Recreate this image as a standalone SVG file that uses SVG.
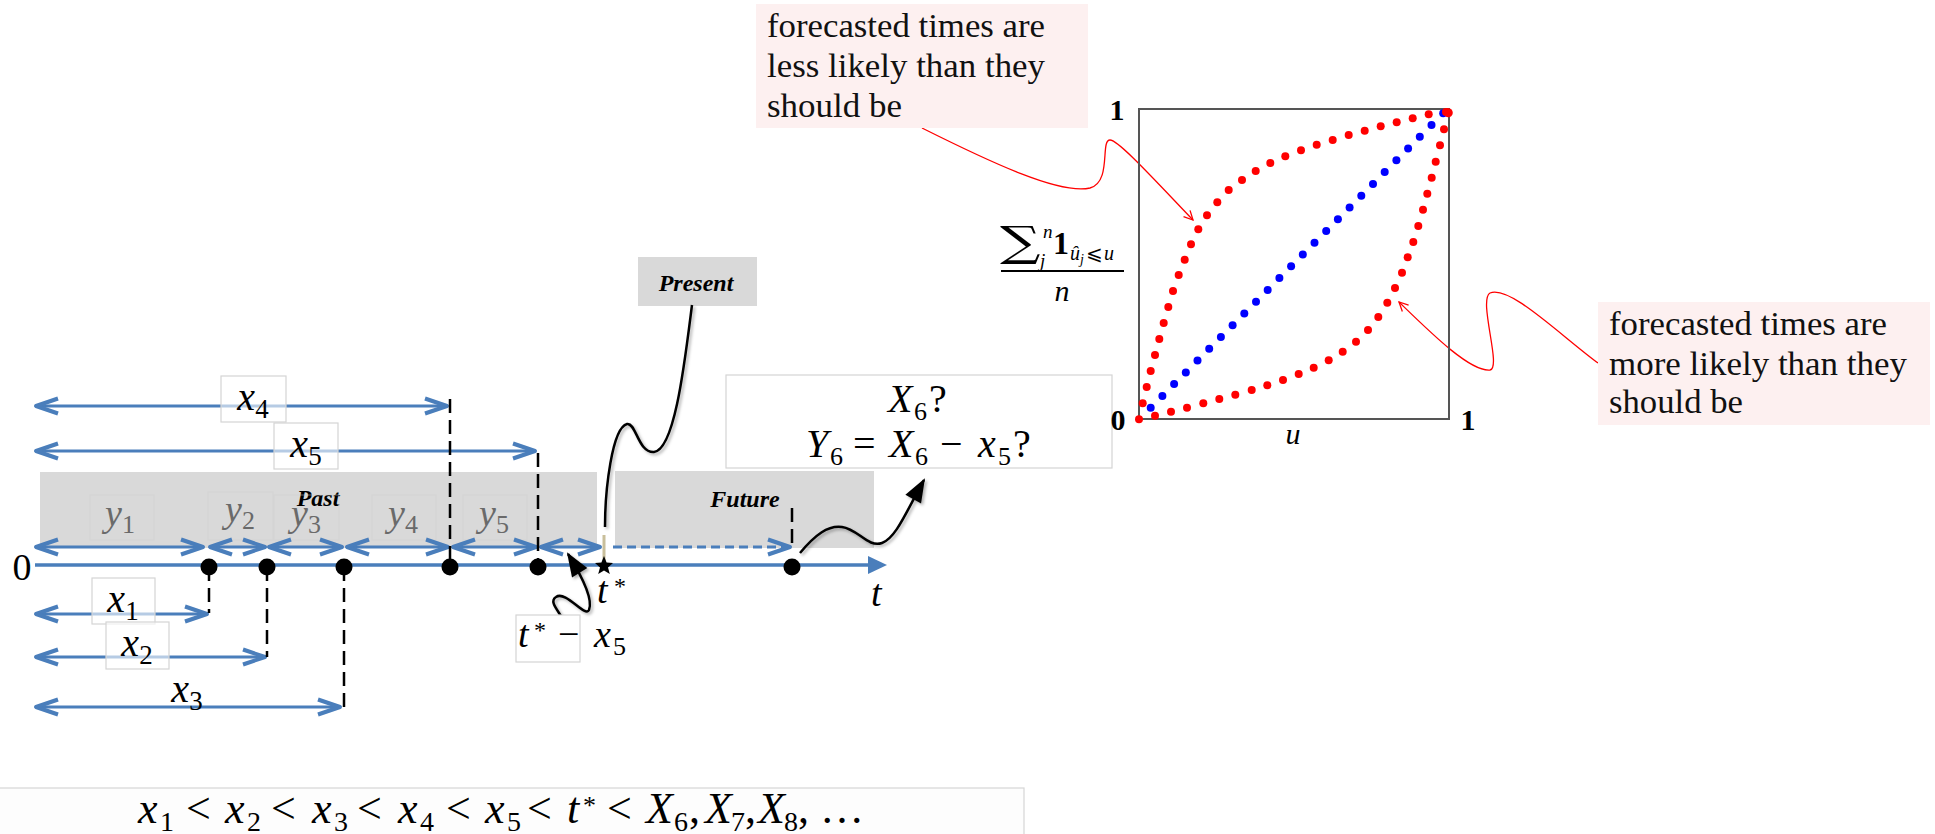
<svg xmlns="http://www.w3.org/2000/svg" width="1935" height="834" viewBox="0 0 1935 834">
<style>
.m{font-family:"Liberation Serif",serif;font-style:italic;fill:#000}
.u{font-family:"Liberation Serif",serif;fill:#000}
.g{fill:#6a6a6a}
.lbl{font-family:"Liberation Serif",serif;font-style:italic;font-weight:bold;font-size:24px;text-anchor:middle;fill:#000}
.cm{font-family:"Liberation Serif",serif;font-size:34px;fill:#111}
.blue{stroke:#4a7ebb;stroke-width:3;fill:none}
.vd{stroke:#000;stroke-width:2.5;stroke-dasharray:14 7;fill:none}
.box{fill:#fff;stroke:#d4d4d4;stroke-width:1.2}
.fbox{fill:none;stroke:#cfcfcf;stroke-width:1;opacity:.5}
.curve{stroke:#000;stroke-width:2.5;fill:none}
.red{stroke:#ff0000;stroke-width:1.3;fill:none}
.rd{fill:#ff0000}
.bd{fill:#0000ff}
</style>
<defs>
<marker id="v" overflow="visible" orient="auto-start-reverse" markerUnits="userSpaceOnUse" refX="0" refY="0" markerWidth="30" markerHeight="20">
<path d="M-22,-7.5 L0,0 L-22,7.5" fill="none" stroke="#4a7ebb" stroke-width="4" stroke-linejoin="round"/>
</marker>
<marker id="bk" overflow="visible" orient="auto" markerUnits="userSpaceOnUse" refX="0" refY="0" markerWidth="24" markerHeight="20">
<path d="M2,0 L-22,-9 L-22,9 Z" fill="#000"/>
</marker>
<marker id="ra" overflow="visible" orient="auto" markerUnits="userSpaceOnUse" refX="0" refY="0" markerWidth="12" markerHeight="12">
<path d="M-9,-4.5 L0,0 L-9,4.5" fill="none" stroke="#ff0000" stroke-width="1.3"/>
</marker>
<filter id="sh" x="-20%" y="-20%" width="140%" height="140%">
<feDropShadow dx="2" dy="2" stdDeviation="1.5" flood-color="#000" flood-opacity="0.3"/>
</filter>
</defs>
<rect width="1935" height="834" fill="#fff"/>

<g id="past-region">
<rect x="40" y="472" width="557" height="76" fill="#d9d9d9"/>
<text class="lbl" x="318" y="506">Past</text>
</g>
<g id="future-region">
<rect x="615" y="471" width="259" height="77" fill="#d9d9d9"/>
<text class="lbl" x="745" y="507">Future</text>
</g>
<g id="present-label">
<rect x="638" y="257" width="119" height="49" fill="#d9d9d9"/>
<text class="lbl" x="696" y="291">Present</text>
</g>

<g id="y-labels">
<rect class="fbox" x="90" y="495" width="64" height="45"/>
<rect class="fbox" x="208" y="492" width="65" height="48"/>
<rect class="fbox" x="274" y="495" width="65" height="45"/>
<rect class="fbox" x="372" y="495" width="64" height="45"/>
<rect class="fbox" x="463" y="495" width="64" height="45"/>
<text class="m g" font-size="38" x="120" y="526" text-anchor="middle">y<tspan font-style="normal" font-size="26" dy="7">1</tspan></text>
<text class="m g" font-size="38" x="240" y="522" text-anchor="middle">y<tspan font-style="normal" font-size="26" dy="7">2</tspan></text>
<text class="m g" font-size="38" x="306" y="526" text-anchor="middle">y<tspan font-style="normal" font-size="26" dy="7">3</tspan></text>
<text class="m g" font-size="38" x="403" y="526" text-anchor="middle">y<tspan font-style="normal" font-size="26" dy="7">4</tspan></text>
<text class="m g" font-size="38" x="494" y="526" text-anchor="middle">y<tspan font-style="normal" font-size="26" dy="7">5</tspan></text>
</g>

<g id="connectors">
<line x1="35" y1="565" x2="870" y2="565" stroke="#4a7ebb" stroke-width="3.5"/>
<path d="M887,565 L868,556 L868,574 Z" fill="#4a7ebb"/>
<line class="blue" x1="36" y1="547" x2="203" y2="547" marker-start="url(#v)" marker-end="url(#v)"/>
<line class="blue" x1="210" y1="547" x2="265" y2="547" marker-start="url(#v)" marker-end="url(#v)"/>
<line class="blue" x1="269" y1="547" x2="342" y2="547" marker-start="url(#v)" marker-end="url(#v)"/>
<line class="blue" x1="347" y1="547" x2="448" y2="547" marker-start="url(#v)" marker-end="url(#v)"/>
<line class="blue" x1="453" y1="547" x2="536" y2="547" marker-start="url(#v)" marker-end="url(#v)"/>
<line class="blue" x1="541" y1="547" x2="600" y2="547" marker-start="url(#v)" marker-end="url(#v)"/>
<line class="blue" x1="613" y1="547" x2="790" y2="547" stroke-dasharray="9 5" marker-end="url(#v)"/>
<line class="blue" x1="36" y1="406" x2="447" y2="406" marker-start="url(#v)" marker-end="url(#v)"/>
<line class="blue" x1="36" y1="451" x2="535" y2="451" marker-start="url(#v)" marker-end="url(#v)"/>
<line class="blue" x1="36" y1="614" x2="207" y2="614" marker-start="url(#v)" marker-end="url(#v)"/>
<line class="blue" x1="36" y1="657" x2="265" y2="657" marker-start="url(#v)" marker-end="url(#v)"/>
<line class="blue" x1="36" y1="707" x2="340" y2="707" marker-start="url(#v)" marker-end="url(#v)"/>
<line class="vd" x1="450" y1="399" x2="450" y2="565"/>
<line class="vd" x1="538" y1="453" x2="538" y2="565"/>
<line class="vd" x1="209" y1="567" x2="209" y2="613"/>
<line class="vd" x1="267" y1="567" x2="267" y2="657"/>
<line class="vd" x1="344" y1="567" x2="344" y2="707"/>
<line class="vd" x1="792" y1="508" x2="792" y2="548" stroke-dasharray="10 6"/>
<line x1="604" y1="535" x2="604" y2="562" stroke="#c9bf9b" stroke-width="3"/>
<g filter="url(#sh)">
<path class="curve" d="M692,305 C685,360 675,450 654,452 C638,453 636,422 627,424 C612,428 605,490 605,527"/>
<path class="curve" d="M800,553 C815,535 828,525 842,527 C858,529 868,548 882,543 C896,538 906,512 924,480" marker-end="url(#bk)"/>
<path class="curve" d="M565,623 C560,612 548,602 556,597 C566,590 585,618 589,610 C593,600 583,578 568,554" marker-end="url(#bk)"/>
</g>
<path class="red" d="M922,128 C990,162 1060,195 1090,188 C1112,182 1100,140 1110,140 C1118,140 1150,175 1193,220" marker-end="url(#ra)"/>
<path class="red" d="M1598,363 C1560,335 1510,285 1490,293 C1478,300 1502,368 1490,370 C1470,372 1430,332 1399,302" marker-end="url(#ra)"/>
</g>

<g id="events">
<circle cx="209" cy="567" r="8.5"/>
<circle cx="267" cy="567" r="8.5"/>
<circle cx="344" cy="567" r="8.5"/>
<circle cx="450" cy="567" r="8.5"/>
<circle cx="538" cy="567" r="8.5"/>
<circle cx="792" cy="567" r="8.5"/>
<path d="M604,556 L606.6,562.4 L613,563 L608,567.5 L609.8,574 L604,570.4 L598.2,574 L600,567.5 L595,563 L601.4,562.4 Z" fill="#000"/>
</g>

<g id="axis-labels">
<text class="u" font-size="38" x="22" y="580" text-anchor="middle">0</text>
<text class="m" font-size="38" x="871" y="606">t</text>
<text class="m" font-size="38" x="597" y="603">t<tspan font-style="normal" font-size="24" x="614" dy="-9">*</tspan></text>
</g>

<g id="x-labels">
<rect class="box" x="221" y="376" width="65" height="46" fill-opacity="0.6"/>
<text class="m" font-size="40" x="253" y="410" text-anchor="middle">x<tspan font-style="normal" font-size="27" dy="8">4</tspan></text>
<rect class="box" x="274" y="423" width="64" height="46" fill-opacity="0.6"/>
<text class="m" font-size="40" x="306" y="457" text-anchor="middle">x<tspan font-style="normal" font-size="27" dy="8">5</tspan></text>
<rect class="box" x="92" y="578" width="63" height="46" fill-opacity="0.6"/>
<text class="m" font-size="40" x="123" y="612" text-anchor="middle">x<tspan font-style="normal" font-size="27" dy="8">1</tspan></text>
<rect class="box" x="106" y="622" width="63" height="47" fill-opacity="0.6"/>
<text class="m" font-size="40" x="137" y="656" text-anchor="middle">x<tspan font-style="normal" font-size="27" dy="8">2</tspan></text>
<text class="m" font-size="40" x="187" y="702" text-anchor="middle">x<tspan font-style="normal" font-size="27" dy="8">3</tspan></text>
</g>

<g id="gap-label">
<rect class="box" x="516" y="615" width="64" height="47"/>
<text class="m" font-size="38" x="518" y="647">t<tspan font-style="normal" font-size="24" x="534" dy="-9">*</tspan><tspan font-style="normal" x="558" dy="9">−</tspan><tspan x="594">x</tspan><tspan font-style="normal" font-size="26" x="613" dy="8">5</tspan></text>
</g>

<g id="question-box">
<rect class="box" x="726" y="375" width="386" height="93" fill="#fdfdfd"/>
<text class="m" font-size="40" x="888" y="412">X<tspan font-style="normal" font-size="26" x="914" dy="8">6</tspan><tspan font-style="normal" x="929" dy="-8">?</tspan></text>
<text class="m" font-size="40" x="806" y="457">Y<tspan font-style="normal" font-size="26" x="830" dy="8">6</tspan><tspan font-style="normal" x="853" dy="-8">=</tspan><tspan x="889">X</tspan><tspan font-style="normal" font-size="26" x="915" dy="8">6</tspan><tspan font-style="normal" x="940" dy="-8">−</tspan><tspan x="978">x</tspan><tspan font-style="normal" font-size="26" x="998" dy="8">5</tspan><tspan font-style="normal" x="1013" dy="-8">?</tspan></text>
</g>

<g id="ordering">
<rect x="-2" y="788" width="1026" height="50" fill="#fdfdfd" stroke="#d6d6d6" stroke-width="1.2"/>
<text class="m" font-size="44" y="823"><tspan x="138">x</tspan><tspan font-style="normal" font-size="28" x="160" dy="8">1</tspan><tspan font-style="normal" x="186" dy="-8">&lt;</tspan><tspan x="225">x</tspan><tspan font-style="normal" font-size="28" x="247" dy="8">2</tspan><tspan font-style="normal" x="271" dy="-8">&lt;</tspan><tspan x="312">x</tspan><tspan font-style="normal" font-size="28" x="334" dy="8">3</tspan><tspan font-style="normal" x="357" dy="-8">&lt;</tspan><tspan x="398">x</tspan><tspan font-style="normal" font-size="28" x="420" dy="8">4</tspan><tspan font-style="normal" x="446" dy="-8">&lt;</tspan><tspan x="485">x</tspan><tspan font-style="normal" font-size="28" x="507" dy="8">5</tspan><tspan font-style="normal" x="527" dy="-8">&lt;</tspan><tspan x="567">t</tspan><tspan font-style="normal" font-size="26" x="583" dy="-9">*</tspan><tspan font-style="normal" x="607" dy="9">&lt;</tspan><tspan x="646">X</tspan><tspan font-style="normal" font-size="28" x="674" dy="8">6</tspan><tspan font-style="normal" x="689" dy="-8">,</tspan><tspan x="705">X</tspan><tspan font-style="normal" font-size="28" x="731" dy="8">7</tspan><tspan font-style="normal" x="745" dy="-8">,</tspan><tspan x="758">X</tspan><tspan font-style="normal" font-size="28" x="784" dy="8">8</tspan><tspan font-style="normal" x="798" dy="-8">, …</tspan></text>
</g>

<g id="note-less">
<rect x="756" y="4" width="332" height="124" fill="#fdf0f0"/>
<text class="cm" x="767" y="37" textLength="278" lengthAdjust="spacingAndGlyphs">forecasted times are</text>
<text class="cm" x="767" y="77" textLength="278" lengthAdjust="spacingAndGlyphs">less likely than they</text>
<text class="cm" x="767" y="117" textLength="135" lengthAdjust="spacingAndGlyphs">should be</text>
</g>
<g id="note-more">
<rect x="1598" y="302" width="332" height="123" fill="#fdf0f0"/>
<text class="cm" x="1609" y="335" textLength="278" lengthAdjust="spacingAndGlyphs">forecasted times are</text>
<text class="cm" x="1609" y="375" textLength="298" lengthAdjust="spacingAndGlyphs">more likely than they</text>
<text class="cm" x="1609" y="413" textLength="134" lengthAdjust="spacingAndGlyphs">should be</text>
</g>

<g id="plot">
<rect x="1139" y="109" width="310" height="310" fill="none" stroke="#555" stroke-width="2"/>
<text class="u" font-size="30" font-weight="bold" x="1117" y="120" text-anchor="middle">1</text>
<text class="u" font-size="30" font-weight="bold" x="1118" y="430" text-anchor="middle">0</text>
<text class="u" font-size="30" font-weight="bold" x="1468" y="430" text-anchor="middle">1</text>
<text class="m" font-size="30" x="1293" y="444" text-anchor="middle">u</text>
<g id="ylabel">
<text font-family="DejaVu Serif, serif" font-size="42" x="0" y="0" transform="translate(1000 256) scale(1.35 1)">∑</text>
<text class="m" font-size="19" x="1043" y="238">n</text>
<text class="m" font-size="19" x="1040" y="267">j</text>
<text class="u" font-size="32" font-weight="bold" x="1053" y="254">1</text>
<text class="m" font-size="20" x="1070" y="260">û<tspan font-size="14" dy="4">j</tspan><tspan font-style="normal" font-size="20" dy="-4" dx="2">⩽</tspan><tspan dx="1">u</tspan></text>
<line x1="1001" y1="271" x2="1124" y2="271" stroke="#000" stroke-width="1.8"/>
<text class="m" font-size="30" x="1062" y="301" text-anchor="middle">n</text>
</g>
<g id="blue-dots">
<circle class="bd" cx="1150.7" cy="407.7" r="4"/><circle class="bd" cx="1162.4" cy="395.9" r="4"/><circle class="bd" cx="1174.1" cy="384.1" r="4"/><circle class="bd" cx="1185.8" cy="372.4" r="4"/><circle class="bd" cx="1197.5" cy="360.6" r="4"/><circle class="bd" cx="1209.2" cy="348.8" r="4"/><circle class="bd" cx="1220.9" cy="337" r="4"/><circle class="bd" cx="1232.6" cy="325.2" r="4"/><circle class="bd" cx="1244.3" cy="313.5" r="4"/><circle class="bd" cx="1256" cy="301.7" r="4"/><circle class="bd" cx="1267.7" cy="289.9" r="4"/><circle class="bd" cx="1279.4" cy="278.1" r="4"/><circle class="bd" cx="1291.1" cy="266.3" r="4"/><circle class="bd" cx="1302.8" cy="254.6" r="4"/><circle class="bd" cx="1314.5" cy="242.8" r="4"/><circle class="bd" cx="1326.2" cy="231" r="4"/><circle class="bd" cx="1337.9" cy="219.2" r="4"/><circle class="bd" cx="1349.6" cy="207.4" r="4"/><circle class="bd" cx="1361.3" cy="195.7" r="4"/><circle class="bd" cx="1373" cy="183.9" r="4"/><circle class="bd" cx="1384.7" cy="172.1" r="4"/><circle class="bd" cx="1396.4" cy="160.3" r="4"/><circle class="bd" cx="1408.1" cy="148.5" r="4"/><circle class="bd" cx="1419.8" cy="136.8" r="4"/><circle class="bd" cx="1431.5" cy="125" r="4"/><circle class="bd" cx="1443.2" cy="113.2" r="4"/>
</g>
<g id="red-dots-upper">
<circle class="rd" cx="1139" cy="419.3" r="4"/><circle class="rd" cx="1142.7" cy="403.3" r="4"/><circle class="rd" cx="1146.7" cy="387" r="4"/><circle class="rd" cx="1150.7" cy="371" r="4"/><circle class="rd" cx="1155" cy="355" r="4"/><circle class="rd" cx="1159.3" cy="339" r="4"/><circle class="rd" cx="1163.7" cy="323" r="4"/><circle class="rd" cx="1168.3" cy="307" r="4"/><circle class="rd" cx="1173" cy="291" r="4"/><circle class="rd" cx="1178.7" cy="275" r="4"/><circle class="rd" cx="1184.7" cy="259.7" r="4"/><circle class="rd" cx="1191" cy="244.3" r="4"/><circle class="rd" cx="1198.3" cy="229.3" r="4"/><circle class="rd" cx="1207" cy="215.3" r="4"/><circle class="rd" cx="1217.3" cy="202.3" r="4"/><circle class="rd" cx="1228.7" cy="190" r="4"/><circle class="rd" cx="1242" cy="180" r="4"/><circle class="rd" cx="1255.7" cy="171" r="4"/><circle class="rd" cx="1270.3" cy="163" r="4"/><circle class="rd" cx="1285.3" cy="156.3" r="4"/><circle class="rd" cx="1301" cy="150.3" r="4"/><circle class="rd" cx="1316.7" cy="144.7" r="4"/><circle class="rd" cx="1332.7" cy="140" r="4"/><circle class="rd" cx="1348.7" cy="135" r="4"/><circle class="rd" cx="1364.7" cy="130.7" r="4"/><circle class="rd" cx="1380.7" cy="126.3" r="4"/><circle class="rd" cx="1396.7" cy="122.3" r="4"/><circle class="rd" cx="1412.7" cy="118.3" r="4"/><circle class="rd" cx="1428.7" cy="114.3" r="4"/><circle class="rd" cx="1446" cy="112" r="4"/>
</g>
<g id="red-dots-lower">
<circle class="rd" cx="1155" cy="415.7" r="4"/><circle class="rd" cx="1171" cy="411.7" r="4"/><circle class="rd" cx="1187" cy="407.7" r="4"/><circle class="rd" cx="1203.3" cy="403.3" r="4"/><circle class="rd" cx="1219.3" cy="399" r="4"/><circle class="rd" cx="1235.3" cy="394.7" r="4"/><circle class="rd" cx="1251.7" cy="390" r="4"/><circle class="rd" cx="1267.3" cy="385.3" r="4"/><circle class="rd" cx="1283" cy="380" r="4"/><circle class="rd" cx="1298.7" cy="374" r="4"/><circle class="rd" cx="1313.7" cy="367.7" r="4"/><circle class="rd" cx="1328.7" cy="360.3" r="4"/><circle class="rd" cx="1342.7" cy="351.7" r="4"/><circle class="rd" cx="1356" cy="341.7" r="4"/><circle class="rd" cx="1368" cy="330" r="4"/><circle class="rd" cx="1378.3" cy="317" r="4"/><circle class="rd" cx="1387.3" cy="302.7" r="4"/><circle class="rd" cx="1395" cy="288" r="4"/><circle class="rd" cx="1402" cy="272.7" r="4"/><circle class="rd" cx="1407.7" cy="257.3" r="4"/><circle class="rd" cx="1413.3" cy="242" r="4"/><circle class="rd" cx="1418.3" cy="226" r="4"/><circle class="rd" cx="1423" cy="209.7" r="4"/><circle class="rd" cx="1427.3" cy="193.7" r="4"/><circle class="rd" cx="1431.7" cy="177.7" r="4"/><circle class="rd" cx="1435.7" cy="161.7" r="4"/><circle class="rd" cx="1440" cy="145.3" r="4"/><circle class="rd" cx="1444" cy="129.3" r="4"/><circle class="rd" cx="1448.3" cy="112.7" r="4.5"/>
</g>
</g>
</svg>
